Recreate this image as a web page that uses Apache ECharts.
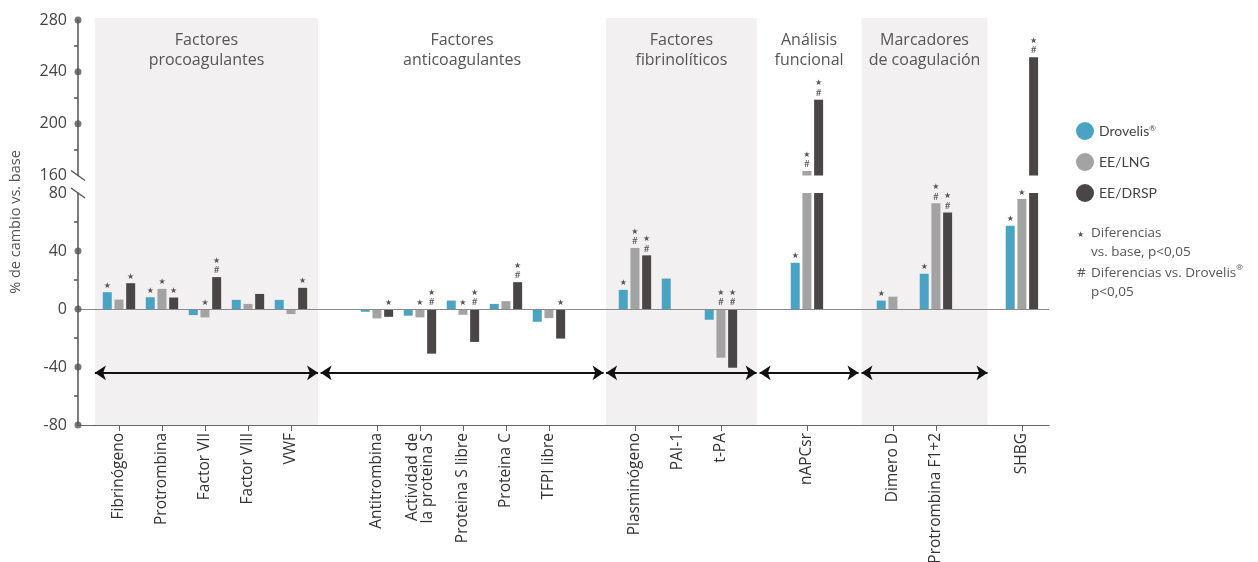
<!DOCTYPE html>
<html><head><meta charset="utf-8">
<script src="https://cdn.jsdelivr.net/npm/echarts@6/dist/echarts.min.js"></script>
<style>html,body{margin:0;padding:0;background:#fff}#c{width:1258px;height:562px}</style>
</head><body><div id="c"></div>
<script>
// ---------------- DATA ----------------
const categories = ['Fibrinógeno','Protrombina','Factor VII','Factor VIII','VWF','',
  'Antitrombina','Actividad de\nla proteina S','Proteina S libre','Proteina C','TFPI libre','',
  'Plasminógeno','PAI-1','t-PA','',
  'nAPCsr','',
  'Dimero D','Protrombina F1+2','',
  'SHBG'];
const seriesNames = ['Drovelis®','EE/LNG','EE/DRSP'];
const drovelis = [11.6, 8.1, -4.2, 6.3, 6.3, null, -1.9, -4.6, 5.8, 3.5, -8.8, null, 13.2, 21, -7.4, null, 31.9, null, 5.8, 24.3, null, 57.4];
const eeLng    = [6.5, 13.9, -5.8, 3.5, -3.5, null, -6.5, -5.8, -4.0, 5.4, -6.3, null, 42.1, null, -33.6, null, 163.5, null, 8.5, 72.9, null, 75.9];
const eeDrsp   = [17.8, 7.9, 22.0, 10.4, 14.6, null, -5.4, -30.8, -22.7, 18.5, -20.4, null, 37.0, null, -40.5, null, 218.5, null, null, 66.5, null, 251.3];
const sigDrovelis = ['*','*','','','',null,'','','','','',null,'*','','',null,'*',null,'*','*',null,'*'];
const sigEeLng    = ['','*','*','','',null,'','*','*','','',null,'*#','','*#',null,'*#',null,'','*#',null,'*'];
const sigEeDrsp   = ['*','*','*#','','*',null,'*','*#','*#','*#','*',null,'*#','','*#',null,'*#',null,'','*#',null,'*#'];
const upperTickLabels = [160, 200, 240, 280];
const lowerTickLabels = [-80, -40, 0, 40, 80];
const groupTitles = ['Factores\nprocoagulantes','Factores\nanticoagulantes','Factores\nfibrinolíticos','Análisis\nfuncional','Marcadores\nde coagulación'];
const noteStar = ['Diferencias', 'vs. base, p<0,05'];
const noteHash = ['Diferencias vs. Drovelis®', 'p<0,05'];

// ---------------- LAYOUT / STYLE ----------------
const colors = ['#4aa3c3', '#a3a3a3', '#4a4646'];
const groupShaded = [true, false, true, false, true];
const groupSpans = [[-0.56, 4.63], [4.69, 11.27], [11.33, 14.83], [14.9, 17.2], [17.27, 20.2]];
const arrowLevel = -44;
const XMIN = -0.953, XMAX = 21.63;
const UP = [160, 280], LO = [-80, 80];
const FONT = 'Lato';
const WIDE = 'Open Sans';

const realIdx = categories.map((c, i) => c ? i : -1).filter(i => i >= 0);
const valueSets = [drovelis, eeLng, eeDrsp];
const sigSets = [sigDrovelis, sigEeLng, sigEeDrsp];

function toData(vals) {
  return realIdx.map(i => [i, vals[i] == null ? '-' : vals[i]]);
}
function makeFormatter(sigs, upper) {
  return function (p) {
    const i = Math.round(p.value[0]);
    const v = p.value[1];
    const s = sigs[i];
    if (!s || typeof v !== 'number') return '';
    if (upper && v <= UP[0]) return '';
    if (!upper && v > LO[1]) return '';
    return s.split('').map(c => c === '*' ? '{s|★}' : '{h|#}').join('\n');
  };
}
const labelRich = {
  s: { fontSize: 8, color: '#555', lineHeight: 9, fontFamily: 'DejaVu Sans' },
  h: { fontSize: 10, color: '#555', lineHeight: 10, fontFamily: FONT }
};

const series = [];
valueSets.forEach((vals, k) => {
  [false, true].forEach(upper => {
    series.push({
      type: 'bar',
      name: seriesNames[k],
      xAxisIndex: upper ? 1 : 2,
      yAxisIndex: upper ? 1 : 2,
      data: toData(vals),
      barWidth: 9,
      barGap: '30%',
      itemStyle: { color: colors[k] },
      label: {
        show: true, position: 'top', distance: 2,
        formatter: makeFormatter(sigSets[k], upper),
        rich: labelRich
      },
      clip: true,
      z: 3
    });
  });
});

// background bands + group titles
series.push({
  type: 'line', xAxisIndex: 0, yAxisIndex: 0, data: [], silent: true, z: 0,
  markArea: {
    silent: true,
    label: { show: true, position: 'insideTop', distance: 12, color: '#555', fontSize: 16, lineHeight: 20, fontFamily: WIDE },
    data: groupTitles.map((t, g) => [
      { name: t, xAxis: groupSpans[g][0], itemStyle: { color: groupShaded[g] ? '#f2f0f0' : 'rgba(0,0,0,0)' } },
      { xAxis: groupSpans[g][1] }
    ])
  }
});
// zero line
series.push({
  type: 'line', xAxisIndex: 2, yAxisIndex: 2, data: [], silent: true, z: 4,
  markLine: {
    silent: true, symbol: ['none', 'none'], label: { show: false },
    lineStyle: { color: '#8a8a8a', width: 1.2, type: 'solid' },
    data: [{ yAxis: 0 }]
  }
});
// group arrows
series.push({
  type: 'line', xAxisIndex: 2, yAxisIndex: 2, data: [], silent: true, z: 4,
  markLine: {
    silent: true, symbol: ['arrow', 'arrow'], symbolSize: [11, 11], label: { show: false },
    lineStyle: { color: '#111', width: 2, type: 'solid' },
    data: groupSpans.map(s => [{ coord: [s[0], arrowLevel] }, { coord: [s[1], arrowLevel] }])
  }
});
// axis dots
series.push({
  type: 'scatter', xAxisIndex: 1, yAxisIndex: 1, silent: true, clip: false, z: 5,
  symbolSize: 7, itemStyle: { color: '#555' },
  data: upperTickLabels.filter(v => v > UP[0]).map(v => [XMIN, v])
});
series.push({
  type: 'scatter', xAxisIndex: 2, yAxisIndex: 2, silent: true, clip: false, z: 5,
  symbolSize: 7, itemStyle: { color: '#555' },
  data: lowerTickLabels.filter(v => v < LO[1]).map(v => [XMIN, v])
});

const xBase = { type: 'value', min: XMIN, max: XMAX, splitLine: { show: false } };
const yStyle = {
  type: 'value', interval: 40,
  axisLine: { show: true, onZero: false, lineStyle: { color: '#555', width: 1.5 } },
  axisTick: { show: false },
  minorTick: { show: true, splitNumber: 2, length: 4, lineStyle: { color: '#555', width: 1.5 } },
  splitLine: { show: false },
  axisLabel: { fontSize: 16, color: '#444', margin: 11, fontFamily: WIDE }
};
const gridBase = { right: 209, left: 78, containLabel: false, outerBoundsMode: 'none' };

const chart = echarts.init(document.getElementById('c'), null, { renderer: 'canvas' });
chart.setOption({
  animation: false,
  textStyle: { fontFamily: FONT },
  grid: [
    Object.assign({ top: 18, bottom: 137 }, gridBase),
    Object.assign({ top: 20, height: 155.5 }, gridBase),
    Object.assign({ top: 193, bottom: 137 }, gridBase)
  ],
  xAxis: [
    Object.assign({}, xBase, { gridIndex: 0, show: false }),
    Object.assign({}, xBase, { gridIndex: 1, show: false }),
    Object.assign({}, xBase, {
      gridIndex: 2,
      axisLine: { show: true, onZero: false, lineStyle: { color: '#666', width: 1.2 } },
      axisTick: { show: true, customValues: realIdx, length: 6, lineStyle: { color: '#666' } },
      axisLabel: {
        customValues: realIdx, rotate: 90, margin: 8,
        formatter: v => categories[Math.round(v)] || '',
        fontSize: 15.5, color: '#333', lineHeight: 15, fontFamily: WIDE
      }
    })
  ],
  yAxis: [
    { gridIndex: 0, type: 'value', min: 0, max: 1, show: false },
    Object.assign({}, yStyle, { gridIndex: 1, min: UP[0], max: UP[1] }),
    Object.assign({}, yStyle, { gridIndex: 2, min: LO[0], max: LO[1] })
  ],
  legend: {
    data: seriesNames, orient: 'vertical', left: 1071, top: 117,
    itemWidth: 18, itemHeight: 18, itemGap: 13, icon: 'circle',
    formatter: n => n.replace('®', '{sup|®}'),
    textStyle: { fontSize: 14, color: '#444', fontFamily: FONT,
      rich: { sup: { fontSize: 8, color: '#444', verticalAlign: 'top', fontFamily: FONT } } },
    selectedMode: false
  },
  series: series
});

// decorations derived from the axes
const ax = chart.convertToPixel({ xAxisIndex: 2 }, XMIN);
const yUp = chart.convertToPixel({ yAxisIndex: 1 }, UP[0]);
const yLo = chart.convertToPixel({ yAxisIndex: 2 }, LO[1]);
const slash = (cy) => ({ type: 'line', silent: true, z: 10,
  shape: { x1: ax - 7, y1: cy - 5, x2: ax + 7, y2: cy + 5 },
  style: { stroke: '#555', lineWidth: 1.5 } });
const noteStyle = { fontSize: 13.5, fill: '#555', fontFamily: WIDE, lineHeight: 19,
  rich: { sup: { fontSize: 8, fill: '#555', verticalAlign: 'top', fontFamily: WIDE } } };
chart.setOption({
  graphic: [
    { type: 'rect', silent: true, z: 9, shape: { x: ax - 2, y: yUp + 1, width: 4, height: yLo - yUp - 2 }, style: { fill: '#fff' } },
    slash(yUp), slash(yLo),
    { type: 'text', silent: true, rotation: Math.PI / 2, x: 16, y: 222,
      style: { text: '% de cambio vs. base', fontSize: 14.5, fill: '#555', fontFamily: WIDE, textAlign: 'center', textVerticalAlign: 'middle' } },
    { type: 'text', silent: true, x: 1077, y: 231, style: { text: '★', fontSize: 8, fill: '#555', fontFamily: 'DejaVu Sans' } },
    { type: 'text', silent: true, x: 1091, y: 224, style: Object.assign({ text: noteStar.join('\n') }, noteStyle) },
    { type: 'text', silent: true, x: 1077, y: 264, style: Object.assign({ text: '#' }, noteStyle) },
    { type: 'text', silent: true, x: 1091, y: 264, style: Object.assign({ text: noteHash.map(s => s.replace('®', '{sup|®}')).join('\n') }, noteStyle) }
  ]
});
</script>
</body></html>
